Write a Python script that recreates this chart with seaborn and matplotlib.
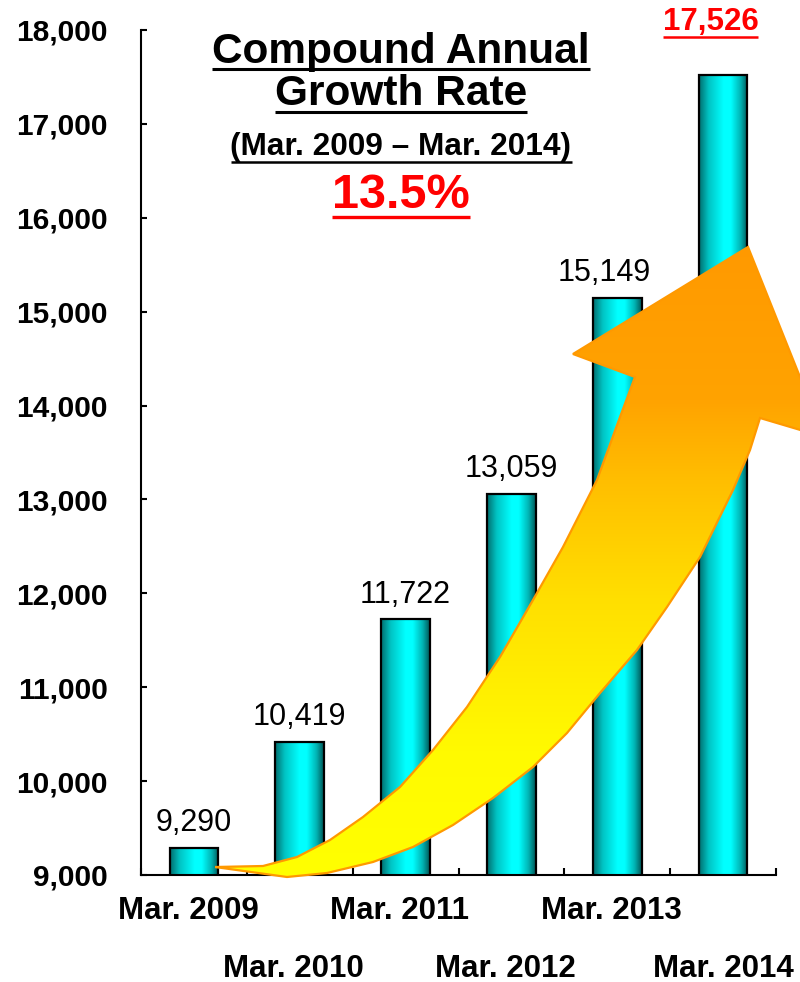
import numpy as np
import pandas as pd
import matplotlib
matplotlib.use("Agg")
import matplotlib.pyplot as plt
import seaborn as sns
from matplotlib.colors import LinearSegmentedColormap
from matplotlib.patches import Polygon
from matplotlib.transforms import ScaledTranslation

# ---------------- data ----------------
categories = ["Mar. 2009", "Mar. 2010", "Mar. 2011", "Mar. 2012", "Mar. 2013", "Mar. 2014"]
values = [9290, 10419, 11722, 13059, 15149, 17526]
y_ticks = [9000, 10000, 11000, 12000, 13000, 14000, 15000, 16000, 17000, 18000]
title_lines = ["Compound Annual", "Growth Rate", "(Mar. 2009 \u2013 Mar. 2014)"]
cagr_text = "13.5%"

# ---------------- style ----------------
sns.set_theme(style="white")
plt.rcParams['font.family'] = ['Liberation Sans', 'DejaVu Sans']

W, H = 800, 982
fig = plt.figure(figsize=(W / 100, H / 100), dpi=100)
fig.patch.set_facecolor("white")
ax = fig.add_axes([141 / W, 1 - 875 / H, 635 / W, 845 / H])

df = pd.DataFrame({"period": categories, "value": values})
sns.barplot(data=df, x="period", y="value", color="#00FFFF", width=0.46,
            edgecolor="black", linewidth=1.6, ax=ax, zorder=3)

# cylinder-like gradient inside each bar
bar_cmap = LinearSegmentedColormap.from_list(
    "cyl", [(0.0, "#006E6E"), (0.2, "#00C4C4"), (0.5, "#00FFFF"),
            (0.65, "#00FFFF"), (0.85, "#00B4B4"), (1.0, "#005656")])
grad = np.linspace(0, 1, 256).reshape(1, -1)
y_lo, y_hi = y_ticks[0], y_ticks[-1]
for p in list(ax.patches):
    x0, w, h = p.get_x(), p.get_width(), p.get_height()
    p.set_facecolor("none")
    im = ax.imshow(grad, cmap=bar_cmap, extent=(x0, x0 + w, y_lo, h),
                   aspect="auto", zorder=2, interpolation="bilinear")
    im.set_clip_path(p)

ax.set_xlim(-0.5, len(categories) - 0.5)
ax.set_ylim(y_lo, y_hi)
ax.set_xlabel("")
ax.set_ylabel("")

# spines / ticks
for s in ["top", "right"]:
    ax.spines[s].set_visible(False)
for s in ["left", "bottom"]:
    ax.spines[s].set_color("black")
    ax.spines[s].set_linewidth(1.5)

ax.set_yticks(y_ticks)
ax.set_yticklabels([f"{v:,}" for v in y_ticks], fontsize=21.5, fontweight="bold")
ax.tick_params(axis="y", which="major", left=True, direction="in", length=4.5,
               width=1.5, color="black", pad=24, labelcolor="black")

ax.set_xticks(range(len(categories)))
ax.set_xticklabels(categories, fontsize=22.5, fontweight="bold")
ax.set_xticks(np.arange(-0.5, len(categories), 1.0), minor=True)
ax.tick_params(axis="x", which="major", bottom=True, length=0, pad=15, labelcolor="black")
ax.tick_params(axis="x", which="minor", bottom=True, direction="in", length=5,
               width=1.5, color="black")
for i, lab in enumerate(ax.get_xticklabels()):
    dy = -0.58 if i % 2 == 1 else 0.0
    dx = -0.06 if i < len(categories) - 1 else 0.0
    lab.set_transform(lab.get_transform() +
                      ScaledTranslation(dx, dy, fig.dpi_scale_trans))

# value labels
label_dx = {4: -13}
for i, v in enumerate(values[:-1]):
    ax.annotate(f"{v:,}", xy=(i, v), xytext=(label_dx.get(i, 0) * 0.72, 12),
                textcoords="offset points", ha="center", va="baseline",
                fontsize=22, color="black", annotation_clip=False, zorder=5)
last_i = len(values) - 1
last_lab = ax.annotate(f"{values[-1]:,}", xy=(last_i, y_hi), xytext=(-9, 0),
                       textcoords="offset points", ha="center", va="baseline",
                       fontsize=22.5, fontweight="bold", color="#FF0000",
                       annotation_clip=False, zorder=5)

# ---------------- overlay (pixel coordinates) ----------------
ov = fig.add_axes([0, 0, 1, 1])
ov.set_axis_off()
ov.patch.set_alpha(0)

arrow_px = [
    (215, 867),
    (263, 866), (297, 857), (330, 840), (363, 817), (400, 787), (433, 750),
    (467, 707), (500, 657), (533, 600), (563, 547), (597, 480), (620, 417),
    (635, 377),
    (573, 354),
    (748, 247),
    (824, 437),
    (760, 418),
    (750, 450), (733, 490), (700, 557), (667, 607), (637, 650), (600, 693),
    (567, 733), (533, 767), (493, 798), (453, 825), (413, 847), (373, 862),
    (327, 873), (287, 877),
]
arrow_cmap = LinearSegmentedColormap.from_list(
    "arr", [(0.0, "#FF9900"), (0.25, "#FFA300"), (0.375, "#FFBE00"),
            (0.56, "#FFDF00"), (0.8, "#FFFA00"), (1.0, "#FFFF00")])
agrad = np.linspace(0, 1, 256).reshape(-1, 1)
poly = Polygon(arrow_px, closed=True, facecolor="none", edgecolor="#FF9900",
               linewidth=1.6, zorder=3, joinstyle="miter")
ov.add_patch(poly)
aim = ov.imshow(agrad, cmap=arrow_cmap, extent=(200, 840, 880, 240),
                origin="upper", aspect="auto", zorder=2, interpolation="bilinear")
aim.set_clip_path(poly)
ov.set_xlim(0, W)
ov.set_ylim(H, 0)

# title block
cx = 401
t1 = ov.text(cx, 63, title_lines[0], fontsize=30.5, fontweight="bold",
             ha="center", va="baseline", color="black")
t2 = ov.text(cx, 105, title_lines[1], fontsize=30.5, fontweight="bold",
             ha="center", va="baseline", color="black")
t3 = ov.text(cx, 155, title_lines[2], fontsize=22.8, fontweight="bold",
             ha="center", va="baseline", color="black")
t4 = ov.text(cx, 208, cagr_text, fontsize=35, fontweight="bold",
             ha="center", va="baseline", color="#FF0000")

fig.canvas.draw()
r = fig.canvas.get_renderer()
inv = ov.transData.inverted()


def underline(txt, base_y, gap, lw, color):
    bb = txt.get_window_extent(r)
    xa = inv.transform((bb.x0, bb.y0))[0]
    xb = inv.transform((bb.x1, bb.y0))[0]
    ov.plot([xa, xb], [base_y + gap, base_y + gap], color=color, lw=lw,
            solid_capstyle="butt", zorder=4)


underline(t1, 63, 6, 2.2, "black")
underline(t2, 105, 7, 2.2, "black")
underline(t3, 155, 7, 1.8, "black")
underline(t4, 208, 9, 2.4, "#FF0000")
# underline for last bar label
bb = last_lab.get_window_extent(r)
base_disp = ax.transData.transform((last_i, y_hi))[1]
base_y = inv.transform((0, base_disp))[1]
xa = inv.transform((bb.x0, 0))[0]
xb = inv.transform((bb.x1, 0))[0]
ov.plot([xa, xb], [base_y + 7, base_y + 7], color="#FF0000", lw=1.8,
        solid_capstyle="butt", zorder=4)
ov.set_xlim(0, W)
ov.set_ylim(H, 0)

fig.savefig("out.png", dpi=100, facecolor="white")
